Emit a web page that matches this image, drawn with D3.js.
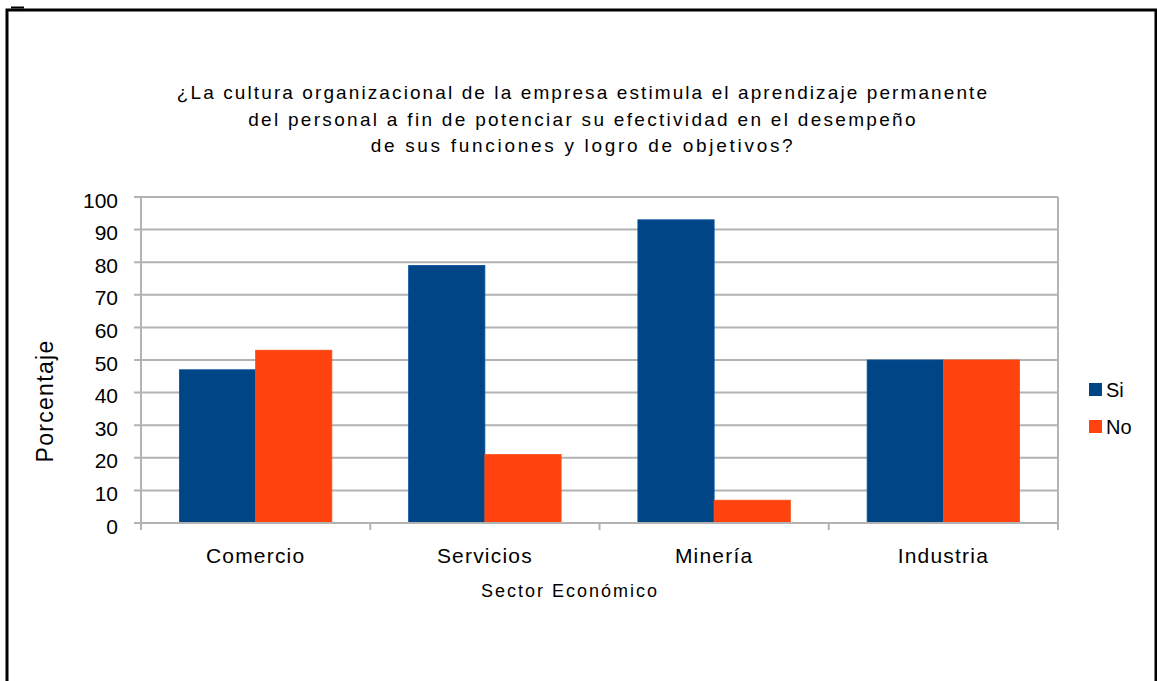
<!DOCTYPE html>
<html>
<head>
<meta charset="utf-8">
<script src="https://cdn.jsdelivr.net/npm/d3@7"></script>
<style>
  html, body { margin: 0; padding: 0; background: #fff; }
  svg { display: block; font-family: "Liberation Sans", Arial, sans-serif; }
</style>
</head>
<body>
<svg id="chart" width="1157" height="681"></svg>
<script>
// Survey results by economic sector (percent)
const categories = ["Comercio", "Servicios", "Minería", "Industria"];
const seriesNames = ["Si", "No"];
const siValues = [47, 79, 93, 50];
const noValues = [53, 21, 7, 50];
const yTicks = [0, 10, 20, 30, 40, 50, 60, 70, 80, 90, 100];
const titleLines = [
  "¿La cultura organizacional de la empresa estimula el aprendizaje permanente",
  "del personal a fin de potenciar su efectividad en el desempeño",
  "de sus funciones y logro de objetivos?"
];
const titleSpacing = [2.1, 2.3, 2.7];
const colors = { Si: "#004586", No: "#ff420e" };

const svg = d3.select("#chart");
const plot = { left: 141, right: 1058, top: 197, bottom: 523 };

// Outer frame
svg.append("line").attr("x1", 11).attr("x2", 24).attr("y1", 7.5).attr("y2", 7.5)
  .attr("stroke", "#000").attr("stroke-width", 2);
svg.append("path")
  .attr("d", "M7,681 V10 H1156 V681")
  .attr("fill", "none").attr("stroke", "#000").attr("stroke-width", 3);

const x0 = d3.scaleBand().domain(categories).range([plot.left, plot.right]).paddingInner(0.335).paddingOuter(0.1675);
const x1 = d3.scaleBand().domain(seriesNames).range([0, x0.bandwidth()]);
const y = d3.scaleLinear().domain([0, 100]).range([plot.bottom, plot.top]);

// Gridlines
svg.append("g").selectAll("line").data(yTicks).join("line")
  .attr("x1", plot.left - 7).attr("x2", plot.right)
  .attr("y1", d => y(d)).attr("y2", d => y(d))
  .attr("stroke", "#b3b3b3").attr("stroke-width", 2);

// Y tick labels
svg.append("g").selectAll("text").data(yTicks).join("text")
  .attr("x", 118).attr("y", d => y(d) + 10.5)
  .attr("text-anchor", "end").attr("font-size", 21).attr("fill", "#000")
  .text(d => d);

// Bars
const rows = categories.map((c, i) => ({ cat: c, Si: siValues[i], No: noValues[i] }));
const groups = svg.append("g").selectAll("g").data(rows).join("g")
  .attr("transform", d => `translate(${x0(d.cat)},0)`);
groups.selectAll("rect").data(d => seriesNames.map(s => ({ s, v: d[s] }))).join("rect")
  .attr("x", d => x1(d.s)).attr("width", x1.bandwidth())
  .attr("y", d => y(d.v)).attr("height", d => y(0) - y(d.v))
  .attr("fill", d => colors[d.s])
  .attr("stroke", d => d3.color(colors[d.s]).brighter(0.4)).attr("stroke-width", 0.8);

// Axis lines and category ticks
svg.append("line").attr("x1", plot.left).attr("x2", plot.left).attr("y1", plot.top).attr("y2", plot.bottom + 7)
  .attr("stroke", "#b3b3b3").attr("stroke-width", 2);
svg.append("line").attr("x1", plot.right).attr("x2", plot.right).attr("y1", plot.top).attr("y2", plot.bottom + 7)
  .attr("stroke", "#b3b3b3").attr("stroke-width", 2);
svg.append("line").attr("x1", plot.left).attr("x2", plot.right).attr("y1", plot.bottom).attr("y2", plot.bottom)
  .attr("stroke", "#b3b3b3").attr("stroke-width", 2);
const step = (plot.right - plot.left) / categories.length;
svg.append("g").selectAll("line").data(d3.range(1, categories.length)).join("line")
  .attr("x1", i => plot.left + i * step).attr("x2", i => plot.left + i * step)
  .attr("y1", plot.bottom).attr("y2", plot.bottom + 7)
  .attr("stroke", "#b3b3b3").attr("stroke-width", 2);

// Category labels
svg.append("g").selectAll("text").data(categories).join("text")
  .attr("x", d => x0(d) + x0.bandwidth() / 2).attr("y", 563)
  .attr("text-anchor", "middle").attr("font-size", 21).attr("letter-spacing", 1.2).attr("fill", "#000")
  .text(d => d);

// Axis titles
svg.append("text").attr("x", 570).attr("y", 597).attr("text-anchor", "middle")
  .attr("font-size", 18).attr("letter-spacing", 2).text("Sector Económico");
svg.append("text").attr("transform", "translate(53,401) rotate(-90)")
  .attr("text-anchor", "middle").attr("font-size", 23).attr("letter-spacing", 1.3).text("Porcentaje");

// Title
svg.append("g").selectAll("text").data(titleLines).join("text")
  .attr("x", 583).attr("y", (d, i) => 99 + i * 26.5)
  .attr("text-anchor", "middle").attr("font-size", 19)
  .attr("letter-spacing", (d, i) => titleSpacing[i]).attr("fill", "#000")
  .text(d => d);

// Legend
const legend = svg.append("g").selectAll("g").data(seriesNames).join("g")
  .attr("transform", (d, i) => `translate(1089,${383 + i * 37})`);
legend.append("rect").attr("width", 13).attr("height", 13).attr("fill", d => colors[d]);
legend.append("text").attr("x", 17).attr("y", 14).attr("font-size", 20).text(d => d);
</script>
</body>
</html>
